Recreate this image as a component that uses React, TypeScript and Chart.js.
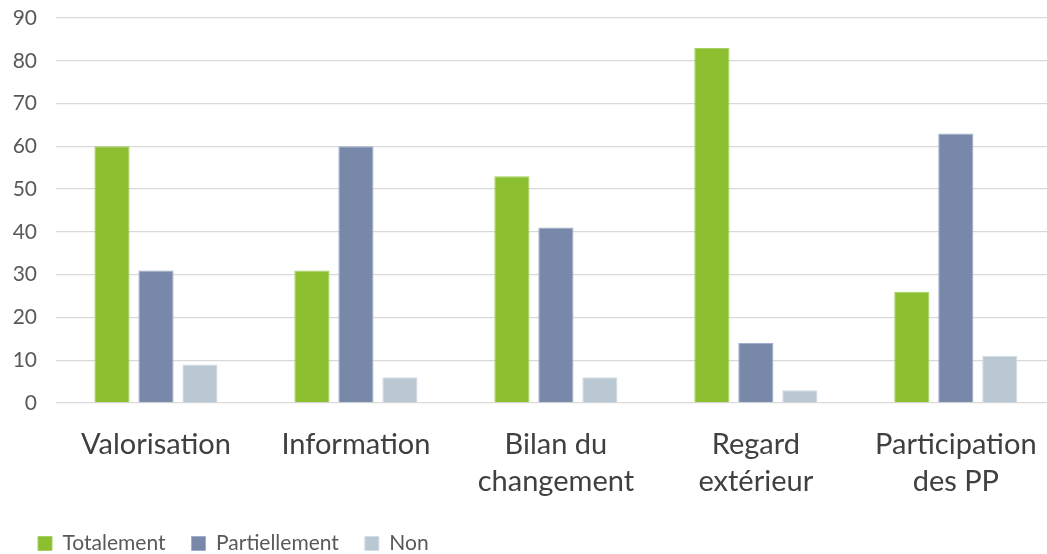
import React, { useEffect, useRef } from "react";
import { Chart, registerables } from "chart.js";

Chart.register(...registerables);

// Categories (multi-line labels) and series values
const categories: (string | string[])[] = [
  "Valorisation",
  "Information",
  ["Bilan du", "changement"],
  ["Regard", "extérieur"],
  ["Participation", "des PP"],
];
const totalement = [60, 31, 53, 83, 26];
const partiellement = [31, 60, 41, 14, 63];
const non = [9, 6, 6, 3, 11];
const yTicks = [0, 10, 20, 30, 40, 50, 60, 70, 80, 90];

const FONT = "Lato, 'Open Sans', sans-serif";

// Shift the bottom legend to the right without moving the plot area
const legendOffset = {
  id: "legendOffset",
  afterLayout(chart: any) {
    if (chart.legend) {
      chart.legend.left += 12;
      chart.legend.right += 12;
    }
  },
};

export default function App() {
  const ref = useRef<HTMLCanvasElement | null>(null);

  useEffect(() => {
    document.body.style.margin = "0";
    document.body.style.overflow = "hidden";
    if (!ref.current) return;
    const chart = new Chart(ref.current, {
      type: "bar",
      data: {
        labels: categories,
        datasets: [
          {
            label: "Totalement",
            data: totalement,
            backgroundColor: "#8bbf30",
            borderColor: "#a3d060",
            borderWidth: 1,
          },
          {
            label: "Partiellement",
            data: partiellement,
            backgroundColor: "#7888a8",
            borderColor: "#a0add0",
            borderWidth: 1,
          },
          {
            label: "Non",
            data: non,
            backgroundColor: "#bac8d3",
            borderColor: "#d2dde6",
            borderWidth: 1,
          },
        ],
      },
      plugins: [legendOffset],
      options: {
        animation: false,
        responsive: true,
        maintainAspectRatio: false,
        layout: { padding: { top: 18, left: 0, right: 4, bottom: 0 } },
        datasets: {
          bar: { categoryPercentage: 0.66, barPercentage: 0.8 },
        },
        plugins: {
          tooltip: { enabled: false },
          legend: {
            position: "bottom",
            align: "start",
            labels: {
              boxWidth: 14,
              boxHeight: 14,
              padding: 26,
              color: "#595959",
              font: { family: FONT, size: 21 },
            },
          },
        },
        scales: {
          x: {
            grid: { display: false, drawTicks: false },
            border: { display: false },
            ticks: {
              color: "#404040",
              padding: 23,
              maxRotation: 0,
              autoSkip: false,
              font: { family: FONT, size: 29, lineHeight: 1.28 },
            },
            afterFit: (scale: any) => {
              scale.height = 104;
            },
          },
          y: {
            min: 0,
            max: 90,
            afterBuildTicks: (scale: any) => {
              scale.ticks = yTicks.map((v) => ({ value: v }));
            },
            grid: {
              color: "#d9d9d9",
              lineWidth: 1.3,
              drawTicks: true,
              tickLength: 19,
              tickColor: "rgba(0,0,0,0)",
            },
            border: { display: false },
            ticks: {
              color: "#595959",
              padding: 0,
              font: { family: FONT, size: 21 },
            },
            afterFit: (scale: any) => {
              scale.width = 56;
            },
          },
        },
      },
    });
    return () => chart.destroy();
  }, []);

  return (
    <div style={{ position: "relative", width: 1060, height: 564 }}>
      <canvas ref={ref} />
    </div>
  );
}
